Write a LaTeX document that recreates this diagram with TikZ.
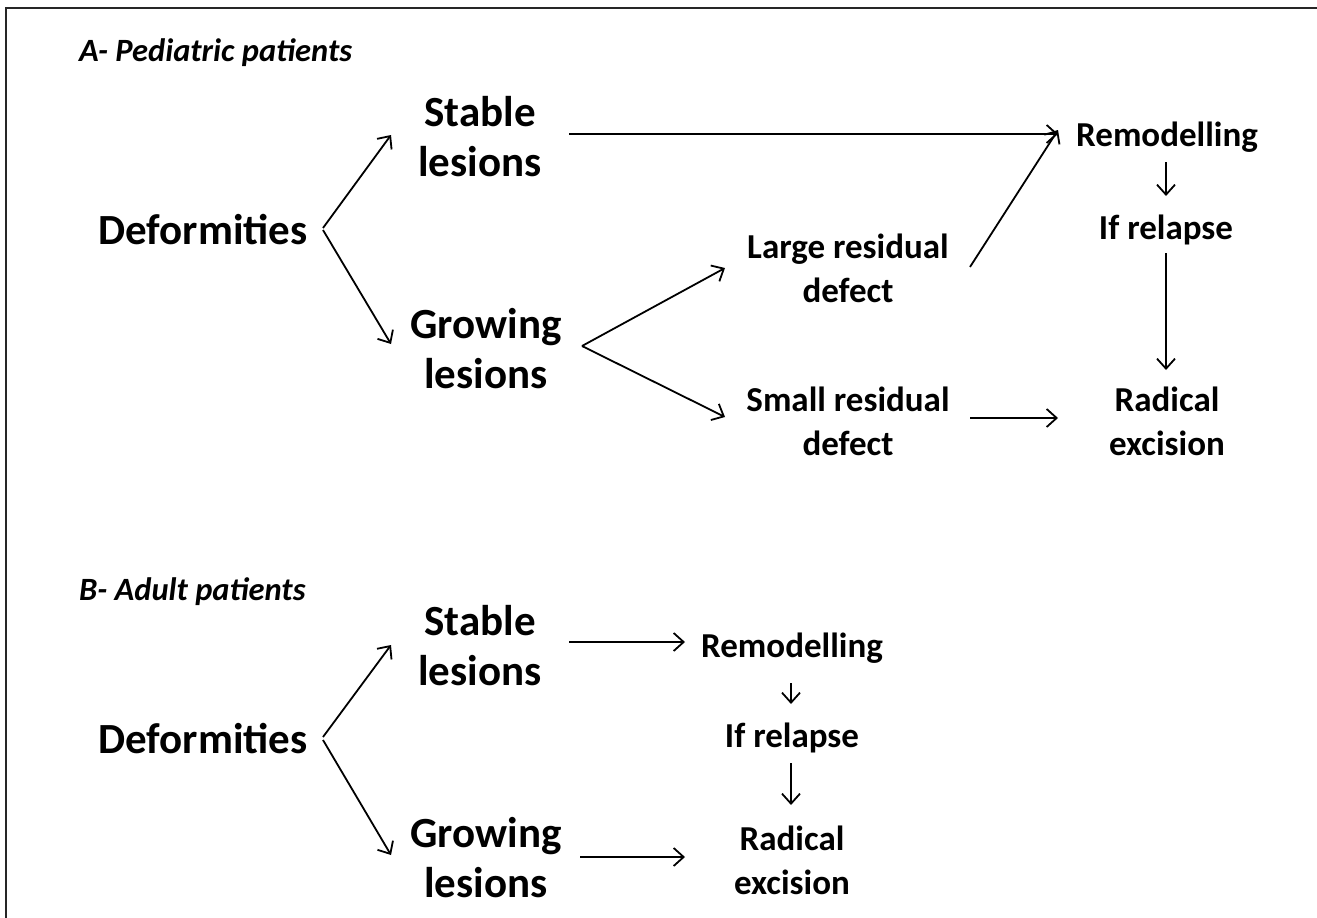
\documentclass[tikz,border=0pt]{standalone}
\usepackage{fontspec}
\setmainfont{Carlito}
\usetikzlibrary{calc,arrows.meta}
\begin{document}
\begin{tikzpicture}[x=1pt,y=-1pt,
  big/.style={font=\fontsize{43}{50}\selectfont\bfseries,align=center,inner sep=0pt},
  small/.style={font=\fontsize{35}{44}\selectfont\bfseries,align=center,inner sep=0pt},
  ttl/.style={font=\fontsize{32.5}{38}\selectfont\bfseries\itshape,anchor=west,inner sep=0pt},
  arr/.style={line width=1.8pt,-{Straight Barb[length=10pt,width=18pt,line width=1.8pt]}},
  frame/.style={line width=2pt,draw=black!85}]
\useasboundingbox (0,0) rectangle (1317,918);
\draw[frame] (6,918) -- (6,8) -- (1317,8);
% Section A
\node[ttl] (tA) at (79,53) {A- Pediatric patients};
\node[big] (defA) at (203,230) {Deformities};
\node[big] (stabA) at (480,137) {Stable\\lesions};
\node[big] (growA) at (486,349) {Growing\\lesions};
\node[small] (largeA) at (848,268) {Large residual\\defect};
\node[small] (smallA) at (848,421) {Small residual\\defect};
\node[small] (remA) at (1167,137) {Remodelling};
\node[small] (ifA) at (1166,230) {If relapse};
\node[small] (radA) at (1167,421) {Radical\\excision};
\draw[arr] ($(defA.center)+(120,-2)$) -- ($(stabA.center)+(-89,-2)$);
\draw[arr] ($(defA.center)+(120,0)$) -- ($(growA.center)+(-95,-5)$);
\draw[arr] ($(stabA.center)+(89,-3)$) -- ($(remA.center)+(-109,-3)$);
\draw[arr] ($(growA.center)+(96,-3)$) -- ($(largeA.center)+(-123,0)$);
\draw[arr] ($(growA.center)+(96,-3)$) -- ($(smallA.center)+(-123,-4)$);
\draw[arr] ($(largeA.center)+(122,-1)$) -- ($(remA.center)+(-109,-7)$);
\draw[arr] ($(remA.center)+(-1,25)$) -- ($(ifA.center)+(0,-34)$);
\draw[arr] ($(ifA.center)+(0,23)$) -- ($(radA.center)+(-1,-51)$);
\draw[arr] ($(smallA.center)+(122,-3)$) -- ($(radA.center)+(-109,-3)$);
% Section B
\node[ttl] (tB) at (79,592) {B- Adult patients};
\node[big] (defB) at (203,739) {Deformities};
\node[big] (stabB) at (480,646) {Stable\\lesions};
\node[big] (growB) at (486,858) {Growing\\lesions};
\node[small] (remB) at (792,648) {Remodelling};
\node[small] (ifB) at (792,738) {If relapse};
\node[small] (radB) at (792,860) {Radical\\excision};
\draw[arr] ($(defB.center)+(120,-2)$) -- ($(stabB.center)+(-89,-1)$);
\draw[arr] ($(defB.center)+(120,1)$) -- ($(growB.center)+(-95,-3)$);
\draw[arr] ($(stabB.center)+(89,-4)$) -- ($(remB.center)+(-107,-6)$);
\draw[arr] ($(remB.center)+(-1,35)$) -- ($(ifB.center)+(-1,-34)$);
\draw[arr] ($(ifB.center)+(-1,25)$) -- ($(radB.center)+(-1,-55)$);
\draw[arr] ($(growB.center)+(94,-1)$) -- ($(radB.center)+(-107,-3)$);
\end{tikzpicture}
\end{document}
